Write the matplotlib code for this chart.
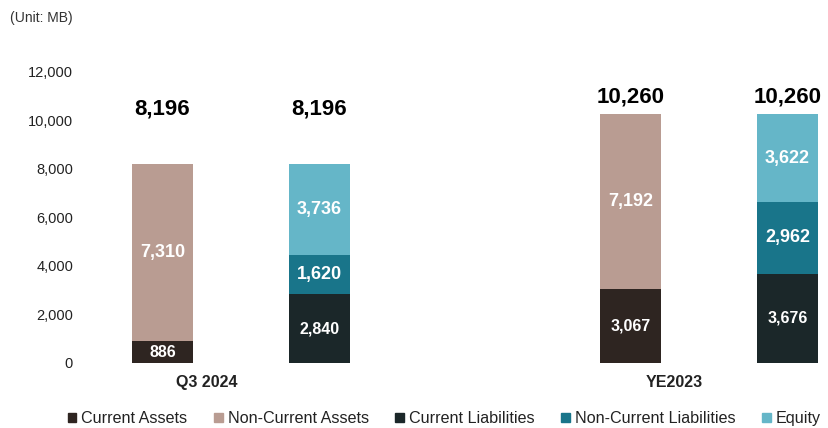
import matplotlib.pyplot as plt
from matplotlib.patches import Patch

plt.rcParams["font.family"] = ["Liberation Sans", "DejaVu Sans"]

periods = ["Q3 2024", "YE2023"]
current_assets = [886, 3067]
non_current_assets = [7310, 7192]
current_liabilities = [2840, 3676]
non_current_liabilities = [1620, 2962]
equity = [3736, 3622]
totals = [8196, 10260]

y_ticks = [0, 2000, 4000, 6000, 8000, 10000, 12000]

colors = {
    "Current Assets": "#2e2521",
    "Non-Current Assets": "#b99c92",
    "Current Liabilities": "#1b2729",
    "Non-Current Liabilities": "#19758a",
    "Equity": "#65b6c8",
}


def main():
    fig = plt.figure(figsize=(8.29, 4.28), dpi=100)
    ax = fig.add_axes([0.0965, 0.152, 0.9035, 0.68])

    width = 0.39
    asset_x = [0, 2.98]
    liab_x = [1, 3.98]

    # asset bars
    ax.bar(asset_x, current_assets, width, color=colors["Current Assets"])
    ax.bar(asset_x, non_current_assets, width, bottom=current_assets,
           color=colors["Non-Current Assets"])

    # liabilities + equity bars
    bottom2 = [a + b for a, b in zip(current_liabilities, non_current_liabilities)]
    ax.bar(liab_x, current_liabilities, width, color=colors["Current Liabilities"])
    ax.bar(liab_x, non_current_liabilities, width, bottom=current_liabilities,
           color=colors["Non-Current Liabilities"])
    ax.bar(liab_x, equity, width, bottom=bottom2, color=colors["Equity"])

    def seg_label(x, base, val, size):
        ax.text(x, base + val / 2, f"{val:,}", ha="center", va="center",
                color="white", fontsize=size, fontweight="bold")

    for i in range(2):
        seg_label(asset_x[i], 0, current_assets[i], 11.5)
        seg_label(asset_x[i], current_assets[i], non_current_assets[i], 13)
        seg_label(liab_x[i], 0, current_liabilities[i], 11.5)
        seg_label(liab_x[i], current_liabilities[i], non_current_liabilities[i], 13)
        seg_label(liab_x[i], bottom2[i], equity[i], 13)

    # totals on top
    total_y = [10450, 10950]
    for i in range(2):
        for x in (asset_x[i], liab_x[i]):
            ax.text(x, total_y[i], f"{totals[i]:,}", ha="center", va="center",
                    fontsize=16, fontweight="bold", color="black")

    ax.set_xlim(-0.525, 4.245)
    ax.set_ylim(0, 12000)
    ax.set_yticks(y_ticks)
    ax.set_yticklabels([f"{v:,}" for v in y_ticks], fontsize=10.5, color="#222222")
    ax.tick_params(axis="y", length=0, pad=5)
    ax.set_xticks([])
    for s in ax.spines.values():
        s.set_visible(False)

    label_x = [0.28, 3.26]
    for x, p in zip(label_x, periods):
        ax.text(x, -800, p, ha="center", va="center", fontsize=11.5,
                fontweight="bold", color="#222222")

    fig.text(0.012, 0.957, "(Unit: MB)", fontsize=10, color="#333333",
             ha="left", va="center")

    handles = [Patch(color=c, label=k) for k, c in colors.items()]
    fig.legend(handles=handles, loc="center", bbox_to_anchor=(0.536, 0.022),
               ncol=5, frameon=False, fontsize=11.6, handlelength=0.55,
               handleheight=0.55, handletextpad=0.3, columnspacing=1.65,
               labelcolor="#222222")

    fig.savefig("out.png", dpi=100)
    plt.close(fig)


if __name__ == "__main__":
    main()
